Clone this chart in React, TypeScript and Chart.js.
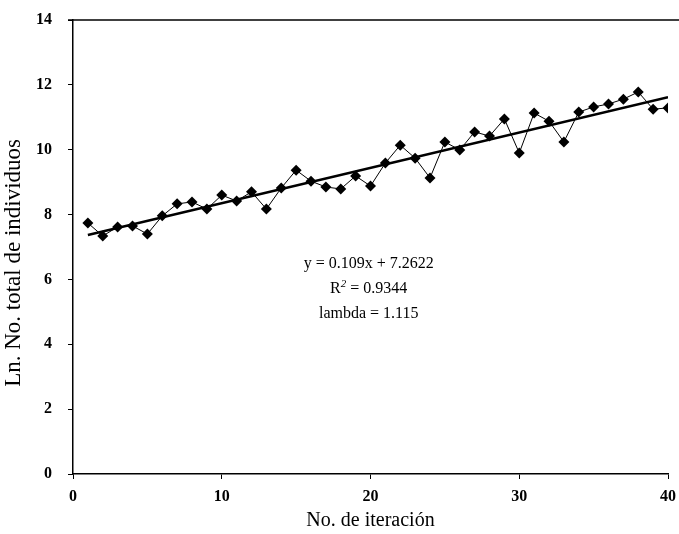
import React, { useEffect, useRef } from "react";
import { Chart, registerables } from "chart.js";

Chart.register(...registerables);

const iterations = [1,2,3,4,5,6,7,8,9,10,11,12,13,14,15,16,17,18,19,20,21,22,23,24,25,26,27,28,29,30,31,32,33,34,35,36,37,38,39,40];
const lnTotal = [7.74,7.34,7.62,7.65,7.40,7.96,8.33,8.39,8.17,8.60,8.42,8.70,8.17,8.82,9.37,9.03,8.85,8.79,9.19,8.88,9.59,10.14,9.74,9.13,10.24,9.99,10.55,10.42,10.95,9.90,11.13,10.88,10.24,11.16,11.32,11.41,11.56,11.78,11.25,11.29];
const trendX = [1, 40];
const trendY = [7.3712, 11.6222];
const xTicks = [0, 10, 20, 30, 40];
const yTicks = [0, 2, 4, 6, 8, 10, 12, 14];
const annotationLines = ["y = 0.109x + 7.2622", "R2 = 0.9344", "lambda = 1.115"];
const xTitle = "No. de iteración";
const yTitle = "Ln. No. total de individuos";

const SERIF = "'Liberation Serif', 'DejaVu Serif', serif";

const decor = {
  id: "decor",
  afterDraw(chart: any) {
    const { ctx, chartArea } = chart;
    ctx.save();
    // top border line
    ctx.strokeStyle = "#000";
    ctx.lineWidth = 1.5;
    ctx.beginPath();
    ctx.moveTo(chartArea.left - 5, chartArea.top);
    ctx.lineTo(chart.width, chartArea.top);
    ctx.stroke();
    ctx.fillStyle = "#000";
    ctx.textBaseline = "middle";
    // axis titles
    ctx.textAlign = "center";
    ctx.font = `20px ${SERIF}`;
    ctx.fillText(xTitle, chartArea.left + (chartArea.right - chartArea.left) * 0.5, chartArea.bottom + 47);
    ctx.save();
    ctx.translate(14, chartArea.top + (chartArea.bottom - chartArea.top) * 0.535);
    ctx.rotate(-Math.PI / 2);
    ctx.font = `23px ${SERIF}`;
    ctx.fillText(yTitle, 0, 0);
    ctx.restore();
    // annotation
    const cx = chartArea.left + (chartArea.right - chartArea.left) * 0.497;
    const y0 = chartArea.top + (chartArea.bottom - chartArea.top) * 0.538;
    const step = 25;
    ctx.font = `16px ${SERIF}`;
    ctx.fillText(annotationLines[0], cx, y0);
    const parts = annotationLines[1].split("2 ");
    const rText = parts[0];
    const restText = " " + parts[1];
    const wR = ctx.measureText(rText).width;
    const wRest = ctx.measureText(restText).width;
    ctx.font = `italic 11px ${SERIF}`;
    const wSup = ctx.measureText("2").width;
    const total = wR + wSup + wRest;
    let x = cx - total / 2;
    ctx.textAlign = "left";
    ctx.font = `16px ${SERIF}`;
    ctx.fillText(rText, x, y0 + step);
    x += wR;
    ctx.font = `italic 11px ${SERIF}`;
    ctx.fillText("2", x, y0 + step - 5);
    x += wSup;
    ctx.font = `16px ${SERIF}`;
    ctx.fillText(restText, x, y0 + step);
    ctx.textAlign = "center";
    ctx.fillText(annotationLines[2], cx, y0 + step * 2);
    ctx.restore();
  },
};

export default function App() {
  const ref = useRef<HTMLCanvasElement>(null);
  useEffect(() => {
    if (!ref.current) return;
    const chart = new Chart(ref.current, {
      type: "scatter",
      data: {
        datasets: [
          {
            label: "Ln total",
            data: iterations.map((x, i) => ({ x, y: lnTotal[i] })),
            showLine: true,
            borderColor: "#000",
            borderWidth: 1,
            backgroundColor: "#000",
            pointStyle: "rectRot",
            pointRadius: 5.5,
            pointBorderWidth: 0,
            order: 2,
          },
          {
            label: "Tendencia",
            data: trendX.map((x, i) => ({ x, y: trendY[i] })),
            showLine: true,
            borderColor: "#000",
            borderWidth: 2.5,
            pointRadius: 0,
            order: 1,
          },
        ],
      },
      options: {
        animation: false,
        responsive: true,
        maintainAspectRatio: false,
        layout: { padding: { top: 20, right: 11, left: 0, bottom: 0 } },
        plugins: { legend: { display: false }, tooltip: { enabled: false } },
        scales: {
          x: {
            type: "linear",
            min: 0,
            max: 40,
            afterBuildTicks: (s: any) => { s.ticks = xTicks.map((v) => ({ value: v })); },
            afterFit: (s: any) => { s.height = 60; s.paddingLeft = 0; s.paddingRight = 0; },
            border: { display: true, color: "#000", width: 1.5 },
            grid: { drawOnChartArea: false, color: "#000", tickLength: 5, lineWidth: 1 },
            ticks: { color: "#000", font: { family: SERIF, size: 16, weight: "bold" }, padding: 8, maxRotation: 0 },
          },
          y: {
            type: "linear",
            min: 0,
            max: 14,
            afterBuildTicks: (s: any) => { s.ticks = yTicks.map((v) => ({ value: v })); },
            afterFit: (s: any) => { s.width = 73; s.paddingTop = 0; s.paddingBottom = 0; },
            border: { display: true, color: "#000", width: 1.5 },
            grid: { drawOnChartArea: false, color: "#000", tickLength: 5, lineWidth: 1 },
            ticks: { color: "#000", font: { family: SERIF, size: 16, weight: "bold" }, padding: 16 },
          },
        },
      },
      plugins: [decor],
    });
    return () => chart.destroy();
  }, []);
  return (
    <div style={{ position: "fixed", left: 0, top: 0, width: 679, height: 534, background: "#fff" }}>
      <canvas ref={ref} />
    </div>
  );
}
